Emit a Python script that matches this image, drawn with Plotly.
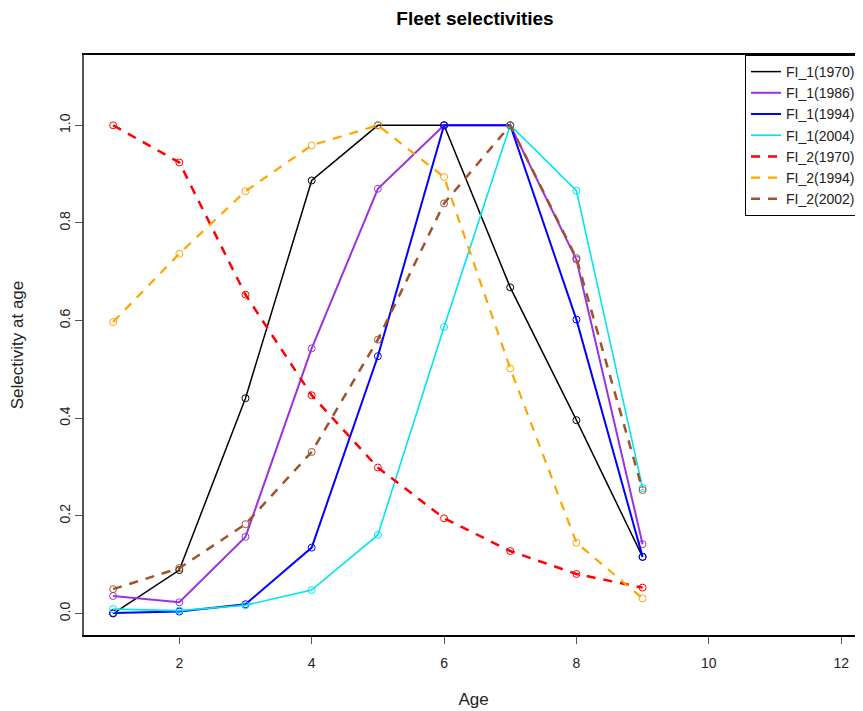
import plotly.graph_objects as go

ages = [1, 2, 3, 4, 5, 6, 7, 8, 9]

fl1_1970 = [0.000, 0.089, 0.441, 0.887, 1.000, 1.000, 0.668, 0.396, 0.116]
fl1_1986 = [0.036, 0.023, 0.157, 0.543, 0.870, 1.000, 1.000, 0.725, 0.142]
fl1_1994 = [0.001, 0.004, 0.019, 0.135, 0.527, 1.000, 1.000, 0.602, 0.116]
fl1_2004 = [0.009, 0.006, 0.017, 0.048, 0.161, 0.587, 1.000, 0.866, 0.257]
fl2_1970 = [1.000, 0.924, 0.653, 0.447, 0.299, 0.195, 0.128, 0.081, 0.053]
fl2_1994 = [0.597, 0.737, 0.865, 0.959, 1.000, 0.894, 0.502, 0.145, 0.031]
fl2_2002 = [0.050, 0.093, 0.183, 0.331, 0.561, 0.840, 1.000, 0.728, 0.253]

series = [
    ("FI_1(1970)", fl1_1970, "black", 1.5, "solid"),
    ("FI_1(1986)", fl1_1986, "#9A32E0", 2.0, "solid"),
    ("FI_1(1994)", fl1_1994, "#0000FF", 2.0, "solid"),
    ("FI_1(2004)", fl1_2004, "#00E5EE", 1.6, "solid"),
    ("FI_2(1970)", fl2_1970, "#FF0000", 2.5, "9px,8px"),
    ("FI_2(1994)", fl2_1994, "#FFA500", 2.2, "9px,8px"),
    ("FI_2(2002)", fl2_2002, "#A0522D", 2.5, "9px,8px"),
]

yticks = [0.0, 0.2, 0.4, 0.6, 0.8, 1.0]
ytick_labels = ["0.0", "0.2", "0.4", "0.6", "0.8", "1.0"]
xticks = [2, 4, 6, 8, 10, 12]

fig = go.Figure()
for name, vals, col, w, dash in series:
    fig.add_trace(go.Scatter(
        x=ages, y=vals, name=name, mode="lines", legendgroup=name,
        line=dict(color=col, width=w, dash=dash),
    ))
    fig.add_trace(go.Scatter(
        x=ages, y=vals, name=name, mode="markers", legendgroup=name, showlegend=False,
        marker=dict(symbol="circle-open", size=7, color=col, line=dict(width=1, color=col)),
    ))

# page has an 8px body margin; figure is sized to fill the rest of the window
W, H = 855, 703
font = "Liberation Sans, Arial, sans-serif"
fig.update_layout(
    width=W, height=H,
    margin=dict(l=76, r=0, t=47, b=76),
    plot_bgcolor="white", paper_bgcolor="white",
    font=dict(family=font, size=14, color="#222"),
    title=dict(text="<b>Fleet selectivities</b>", x=467 / W, xanchor="center",
               y=1 - 10 / H, yanchor="middle", font=dict(size=19, color="black")),
    showlegend=True,
    legend=dict(x=(737 - 76) / 779, xanchor="left", y=1, yanchor="top",
                bordercolor="black", borderwidth=1, bgcolor="white",
                font=dict(size=14, color="#222"),
                tracegroupgap=0),
    xaxis=dict(range=[0.56, 12.33], tickvals=xticks, showgrid=False, zeroline=False,
               showline=True, linecolor="black", linewidth=1.5, mirror=True,
               ticks="outside", ticklen=7, tickcolor="#555", automargin=False,
               ticklabelstandoff=7, tickfont=dict(size=14),
               title=dict(text="Age", standoff=24)),
    yaxis=dict(range=[-0.044, 1.144], tickvals=yticks, ticktext=ytick_labels,
               tickangle=-90, showgrid=False, zeroline=False,
               showline=True, linecolor="#555", linewidth=1.5, automargin=False,
               ticks="outside", ticklen=7, tickcolor="#555", tickfont=dict(size=14),
               title=dict(text="Selectivity at age", standoff=30)),
)

fig.write_html("out.html")
